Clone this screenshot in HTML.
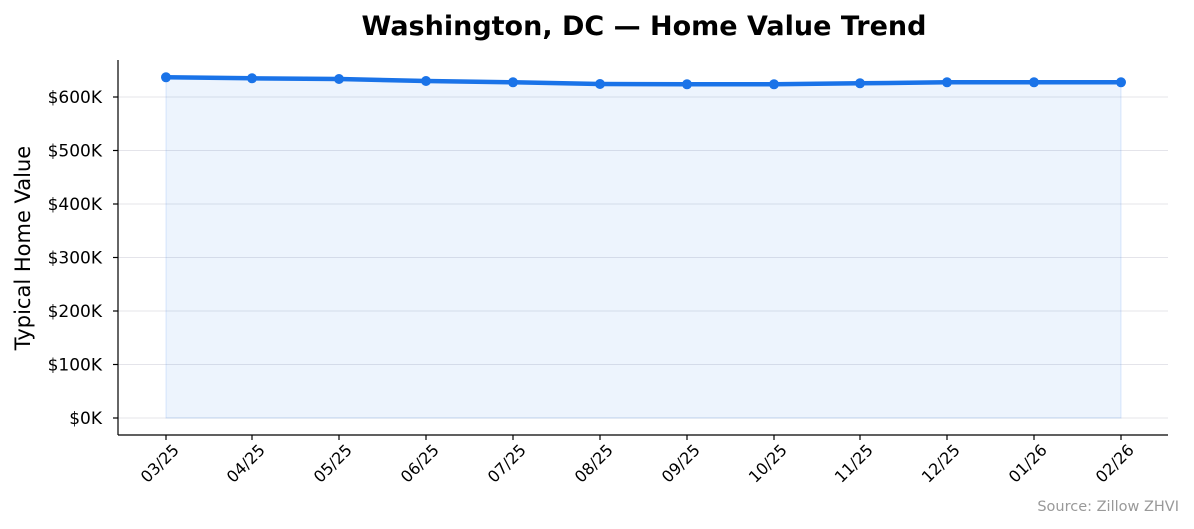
<!DOCTYPE html>
<html><head><meta charset="utf-8"><style>
body{margin:0;background:#fff;}
svg{display:block;font-family:"DejaVu Sans","Liberation Sans",sans-serif;}
</style></head><body>
<svg width="1194" height="529" viewBox="0 0 1194 529" xmlns="http://www.w3.org/2000/svg">
<rect width="1194" height="529" fill="#fff"/>
<text x="644" y="35" text-anchor="middle" font-size="27" font-weight="bold" fill="#000">Washington, DC — Home Value Trend</text>
<g stroke="#e4e4ea" stroke-width="1">
<line x1="118" y1="418" x2="1168" y2="418"/>
<line x1="118" y1="364.5" x2="1168" y2="364.5"/>
<line x1="118" y1="311" x2="1168" y2="311"/>
<line x1="118" y1="257.5" x2="1168" y2="257.5"/>
<line x1="118" y1="204" x2="1168" y2="204"/>
<line x1="118" y1="150.5" x2="1168" y2="150.5"/>
<line x1="118" y1="97" x2="1168" y2="97"/>
</g>
<polygon fill="#1a73e8" fill-opacity="0.08" stroke="#1a73e8" stroke-opacity="0.15" points="166,418 166,77.3 252,78.3 339,79 426,81 513,82.3 600,84 687,84.3 774,84.3 860,83.3 947,82.3 1034,82.3 1121,82.3 1121,418"/>
<polyline fill="none" stroke="#1a73e8" stroke-width="4.5" stroke-linejoin="round" points="166,77.3 252,78.3 339,79 426,81 513,82.3 600,84 687,84.3 774,84.3 860,83.3 947,82.3 1034,82.3 1121,82.3"/>
<g fill="#1a73e8">
<circle cx="166" cy="77.3" r="5"/><circle cx="252" cy="78.3" r="5"/><circle cx="339" cy="79" r="5"/><circle cx="426" cy="81" r="5"/><circle cx="513" cy="82.3" r="5"/><circle cx="600" cy="84" r="5"/><circle cx="687" cy="84.3" r="5"/><circle cx="774" cy="84.3" r="5"/><circle cx="860" cy="83.3" r="5"/><circle cx="947" cy="82.3" r="5"/><circle cx="1034" cy="82.3" r="5"/><circle cx="1121" cy="82.3" r="5"/>
</g>
<g stroke="#000" stroke-width="1.2">
<line x1="118" y1="60" x2="118" y2="435"/>
<line x1="118" y1="435" x2="1168" y2="435"/>
<line x1="113" y1="418" x2="118" y2="418"/><line x1="113" y1="364.5" x2="118" y2="364.5"/><line x1="113" y1="311" x2="118" y2="311"/><line x1="113" y1="257.5" x2="118" y2="257.5"/><line x1="113" y1="204" x2="118" y2="204"/><line x1="113" y1="150.5" x2="118" y2="150.5"/><line x1="113" y1="97" x2="118" y2="97"/>
<line x1="166" y1="435" x2="166" y2="440"/><line x1="252" y1="435" x2="252" y2="440"/><line x1="339" y1="435" x2="339" y2="440"/><line x1="426" y1="435" x2="426" y2="440"/><line x1="513" y1="435" x2="513" y2="440"/><line x1="600" y1="435" x2="600" y2="440"/><line x1="687" y1="435" x2="687" y2="440"/><line x1="774" y1="435" x2="774" y2="440"/><line x1="860" y1="435" x2="860" y2="440"/><line x1="947" y1="435" x2="947" y2="440"/><line x1="1034" y1="435" x2="1034" y2="440"/><line x1="1121" y1="435" x2="1121" y2="440"/>
</g>
<g font-size="17" text-anchor="end" fill="#000">
<text x="102" y="424">$0K</text><text x="102" y="370.5">$100K</text><text x="102" y="317">$200K</text><text x="102" y="263.5">$300K</text><text x="102" y="210">$400K</text><text x="102" y="156.5">$500K</text><text x="102" y="103">$600K</text>
</g>
<text transform="translate(30,248) rotate(-90)" text-anchor="middle" font-size="21" fill="#000">Typical Home Value</text>
<g font-size="16" text-anchor="end" fill="#000">
<text transform="translate(180,451) rotate(-45)">03/25</text>
<text transform="translate(266,451) rotate(-45)">04/25</text>
<text transform="translate(353,451) rotate(-45)">05/25</text>
<text transform="translate(440,451) rotate(-45)">06/25</text>
<text transform="translate(527,451) rotate(-45)">07/25</text>
<text transform="translate(614,451) rotate(-45)">08/25</text>
<text transform="translate(701,451) rotate(-45)">09/25</text>
<text transform="translate(788,451) rotate(-45)">10/25</text>
<text transform="translate(874,451) rotate(-45)">11/25</text>
<text transform="translate(961,451) rotate(-45)">12/25</text>
<text transform="translate(1048,451) rotate(-45)">01/26</text>
<text transform="translate(1135,451) rotate(-45)">02/26</text>
</g>
<text x="1179" y="511" text-anchor="end" font-size="14.5" fill="#999">Source: Zillow ZHVI</text>
</svg>
</body></html>
